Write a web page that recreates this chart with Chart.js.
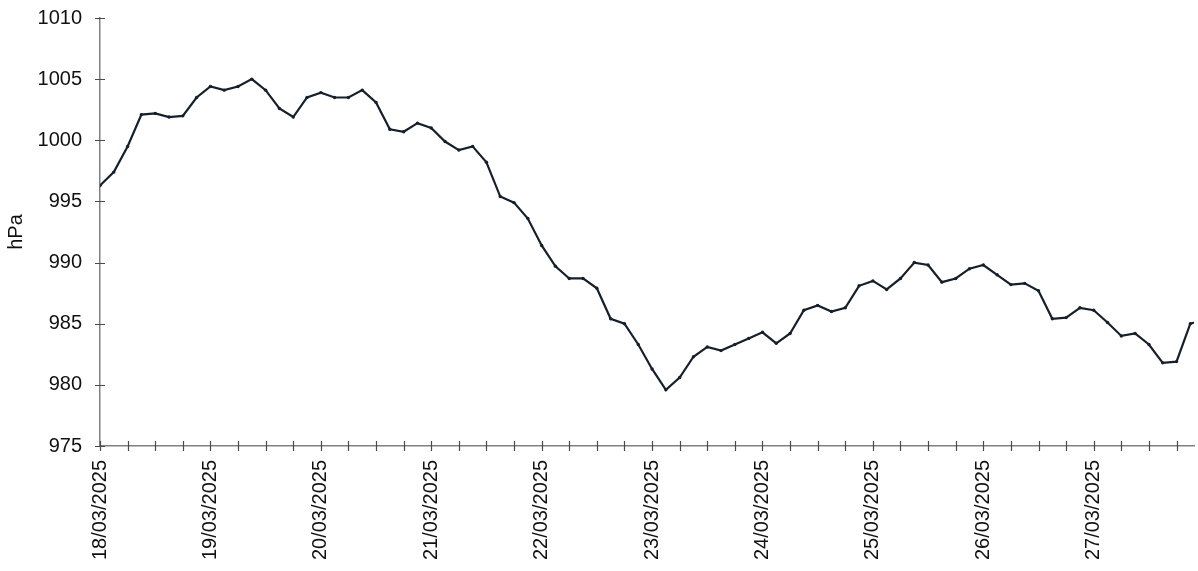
<!DOCTYPE html>
<html>
<head>
<meta charset="utf-8">
<title>hPa</title>
<script src="https://cdn.jsdelivr.net/npm/chart.js@4.4.1/dist/chart.umd.min.js"></script>
<style>
    html, body { margin: 0; padding: 0; background: #fff; overflow: hidden; }
    #wrap { position: relative; width: 1198px; height: 571px; }
</style>
</head>
<body>
<div id="wrap"><canvas id="pressureChart"></canvas></div>
<script>
// x axis: one label per day, readings every 3 hours
const dayLabels = ['18/03/2025', '19/03/2025', '20/03/2025', '21/03/2025', '22/03/2025',
    '23/03/2025', '24/03/2025', '25/03/2025', '26/03/2025', '27/03/2025', '28/03/2025'];
const stepHours = 3;

// pressure readings (hPa), 00h 03h ... 21h for each day
const p18 = [996.3, 997.4, 999.5, 1002.1, 1002.2, 1001.9, 1002.0, 1003.5];
const p19 = [1004.4, 1004.1, 1004.4, 1005.0, 1004.1, 1002.6, 1001.9, 1003.5];
const p20 = [1003.9, 1003.5, 1003.5, 1004.1, 1003.1, 1000.9, 1000.7, 1001.4];
const p21 = [1001.0, 999.9, 999.2, 999.5, 998.2, 995.4, 994.9, 993.6];
const p22 = [991.4, 989.7, 988.7, 988.7, 987.9, 985.4, 985.0, 983.3];
const p23 = [981.3, 979.6, 980.6, 982.3, 983.1, 982.8, 983.3, 983.8];
const p24 = [984.3, 983.4, 984.2, 986.1, 986.5, 986.0, 986.3, 988.1];
const p25 = [988.5, 987.8, 988.7, 990.0, 989.8, 988.4, 988.7, 989.5];
const p26 = [989.8, 989.0, 988.2, 988.3, 987.7, 985.4, 985.5, 986.3];
const p27 = [986.1, 985.1, 984.0, 984.2, 983.3, 981.8, 981.9, 985.0];
const p28 = [985.3];

const yMin = 975;
const yMax = 1010;
const xMaxHours = 237.8;

const lineColor = '#16202b';
const axisColor = '#808080';
const tickColor = '#4a4a4a';
const textColor = '#111';
const fontFamily = '"Liberation Sans", Arial, Helvetica, sans-serif';
const tickHalf = 5;

// ticks that cross the axis lines, as on the printed chart
const crossTicks = {
    id: 'crossTicks',
    afterDatasetsDraw(chart) {
        const { ctx, chartArea, scales } = chart;
        const xScale = scales.x;
        const yScale = scales.y;
        ctx.save();
        ctx.strokeStyle = tickColor;
        ctx.lineWidth = 1.2;
        ctx.beginPath();
        for (let i = 0; i < xScale.ticks.length; i++) {
            const px = Math.round(xScale.getPixelForTick(i)) + 0.5;
            ctx.moveTo(px, chartArea.bottom - tickHalf);
            ctx.lineTo(px, chartArea.bottom + tickHalf);
        }
        for (let i = 0; i < yScale.ticks.length; i++) {
            const py = Math.round(yScale.getPixelForTick(i)) + 0.5;
            ctx.moveTo(chartArea.left - tickHalf, py);
            ctx.lineTo(chartArea.left + tickHalf, py);
        }
        ctx.stroke();
        ctx.restore();
    }
};

class PressureChart {
    constructor(canvasId, readings) {
        this.canvasId = canvasId;
        this.ctx = document.getElementById(this.canvasId).getContext('2d');
        this.points = readings.map((v, i) => ({ x: i * stepHours, y: v }));
        this.chartInstance = null;
        this.createChart();
    };

    buildConfig() {
        return {
            type: 'line',
            data: {
                datasets: [{
                    data: this.points,
                    borderColor: lineColor,
                    backgroundColor: lineColor,
                    borderWidth: 2.2,
                    pointRadius: 1.7,
                    pointBorderWidth: 0,
                    tension: 0,
                    fill: false
                }]
            },
            options: {
                responsive: true,
                maintainAspectRatio: false,
                animation: false,
                layout: { padding: { top: 18, right: 0, bottom: 0, left: 0 } },
                plugins: {
                    legend: { display: false },
                    tooltip: { enabled: false }
                },
                scales: {
                    x: {
                        type: 'linear',
                        min: 0,
                        max: xMaxHours,
                        border: { color: axisColor, width: 1.5 },
                        grid: { display: true, drawOnChartArea: false, drawTicks: false },
                        ticks: {
                            stepSize: 6,
                            includeBounds: false,
                            autoSkip: false,
                            minRotation: 90,
                            maxRotation: 90,
                            padding: 14,
                            color: textColor,
                            font: { family: fontFamily, size: 20 },
                            callback: (value) => (value % 24 === 0 ? dayLabels[value / 24] : '')
                        },
                        afterFit: (scale) => {
                            scale.height = 125;
                            scale.paddingLeft = 0;
                            scale.paddingRight = 0;
                        }
                    },
                    y: {
                        min: yMin,
                        max: yMax,
                        border: { color: axisColor, width: 1.5 },
                        grid: { display: true, drawOnChartArea: false, drawTicks: false },
                        ticks: {
                            stepSize: 5,
                            padding: 18,
                            color: textColor,
                            font: { family: fontFamily, size: 20 },
                            callback: (value) => String(value)
                        },
                        title: {
                            display: true,
                            text: 'hPa',
                            color: textColor,
                            font: { family: fontFamily, size: 20 },
                            padding: { top: 4, bottom: 0 }
                        },
                        afterFit: (scale) => {
                            scale.width = 100;
                            scale.paddingTop = 0;
                            scale.paddingBottom = 0;
                        }
                    }
                }
            },
            plugins: [crossTicks]
        };
    };

    createChart() {
        if (this.chartInstance) {
            this.chartInstance.destroy();
        }
        this.chartInstance = new Chart(this.ctx, this.buildConfig());
    };
};

const readings = [].concat(p18, p19, p20, p21, p22, p23, p24, p25, p26, p27, p28);
new PressureChart('pressureChart', readings);
</script>
</body>
</html>
